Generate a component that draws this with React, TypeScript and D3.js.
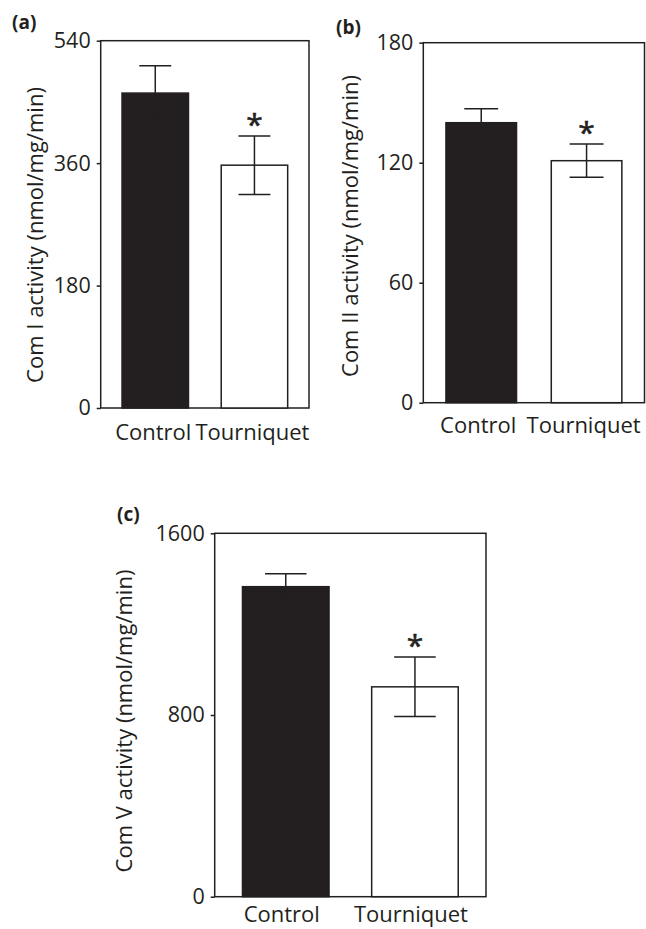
import React, { useEffect, useRef } from "react";
import * as d3 from "d3";

// groups, bar means and SEM
const groups = ["Control", "Tourniquet"];

const comIMeans = [463, 357];
const comISem = [40, 43];
const comITicks = [0, 180, 360, 540];

const comIIMeans = [140, 121];
const comIISem = [7, 8.3];
const comIITicks = [0, 60, 120, 180];

const comVMeans = [1365, 924];
const comVSem = [57, 131];
const comVTicks = [0, 800, 1600];

const significant = [false, true];

const W = 646;
const H = 929;
const FONT = "'Open Sans', sans-serif";
const INK = "#231f20";

function drawPanel(svg, p) {
  const g = svg.append("g");

  const x = d3.scaleBand().domain(groups).range([p.x0, p.x1]).paddingInner(0.33).paddingOuter(0.215);
  const y = d3.scaleLinear().domain([0, p.ticks[p.ticks.length - 1]]).range([p.y0, p.y1]);

  // frame
  g.append("rect")
    .attr("x", p.x0).attr("y", p.y1)
    .attr("width", p.x1 - p.x0).attr("height", p.y0 - p.y1)
    .attr("fill", "none").attr("stroke", INK).attr("stroke-width", 1.5);

  // y axis
  const ax = g.append("g").attr("transform", `translate(${p.x0},0)`)
    .call(d3.axisLeft(y).tickValues(p.ticks).tickSize(4).tickPadding(6).tickFormat(d3.format("d")));
  ax.select(".domain").remove();
  ax.selectAll("line").attr("stroke", INK).attr("stroke-width", 1.5);
  ax.selectAll("text").attr("font-family", FONT).attr("font-size", 21.5).attr("fill", INK);

  const bw = x.bandwidth();
  const data = groups.map((k, i) => ({ k, v: p.means[i], se: p.sem[i], sig: significant[i] }));

  g.selectAll("rect.bar").data(data).enter().append("rect")
    .attr("class", "bar")
    .attr("x", d => x(d.k))
    .attr("y", d => y(d.v))
    .attr("width", bw)
    .attr("height", d => y(0) - y(d.v))
    .attr("fill", (d, i) => (i === 0 ? INK : "#fff"))
    .attr("stroke", INK).attr("stroke-width", 1.5);

  const cap = bw * 0.24;
  const err = g.selectAll("g.err").data(data).enter().append("g").attr("class", "err");
  err.append("line")
    .attr("x1", d => x(d.k) + bw / 2).attr("x2", d => x(d.k) + bw / 2)
    .attr("y1", d => y(d.v - d.se)).attr("y2", d => y(d.v + d.se));
  err.append("line")
    .attr("x1", d => x(d.k) + bw / 2 - cap).attr("x2", d => x(d.k) + bw / 2 + cap)
    .attr("y1", d => y(d.v + d.se)).attr("y2", d => y(d.v + d.se));
  err.append("line")
    .attr("x1", d => x(d.k) + bw / 2 - cap).attr("x2", d => x(d.k) + bw / 2 + cap)
    .attr("y1", d => y(d.v - d.se)).attr("y2", d => y(d.v - d.se));
  err.selectAll("line").attr("stroke", INK).attr("stroke-width", 1.5);

  g.selectAll("text.star").data(data.filter(d => d.sig)).enter().append("text")
    .attr("class", "star")
    .attr("x", d => x(d.k) + bw / 2)
    .attr("y", d => y(d.v + d.se) - 1)
    .attr("text-anchor", "middle")
    .attr("font-family", FONT).attr("font-size", 30).attr("fill", INK)
    .attr("stroke", INK).attr("stroke-width", 0.6)
    .text("*");

  // category labels
  g.selectAll("text.cat").data(data).enter().append("text")
    .attr("class", "cat")
    .attr("x", d => x(d.k) + bw / 2 + p.catDx)
    .attr("y", p.catY)
    .attr("text-anchor", "middle")
    .attr("font-family", FONT).attr("font-size", 22).attr("fill", INK)
    .text(d => d.k);

  // y title
  g.append("text")
    .attr("transform", `translate(${p.titleX},${p.titleY}) rotate(-90)`)
    .attr("text-anchor", "middle")
    .attr("font-family", FONT).attr("font-size", 22).attr("fill", INK)
    .text(p.title);

  // panel letter
  g.append("text")
    .attr("x", p.tagX).attr("y", p.tagY)
    .attr("font-family", FONT).attr("font-size", 19).attr("font-weight", "bold").attr("fill", INK)
    .text(p.tag);
}

export default function App() {
  const ref = useRef(null);

  useEffect(() => {
    const svg = d3.select(ref.current);
    svg.selectAll("*").remove();

    drawPanel(svg, {
      x0: 100.7, x1: 309, y0: 408, y1: 40.7,
      means: comIMeans, sem: comISem, ticks: comITicks,
      title: "Com I activity (nmol/mg/min)", titleX: 43, titleY: 235,
      catY: 440, catDx: -2, tag: "(a)", tagX: 12, tagY: 29,
    });
    drawPanel(svg, {
      x0: 423.3, x1: 644.5, y0: 402.7, y1: 42.7,
      means: comIIMeans, sem: comIISem, ticks: comIITicks,
      title: "Com II activity (nmol/mg/min)", titleX: 358, titleY: 226,
      catY: 433, catDx: -3, tag: "(b)", tagX: 336, tagY: 34,
    });
    drawPanel(svg, {
      x0: 214.7, x1: 486, y0: 896.7, y1: 533.3,
      means: comVMeans, sem: comVSem, ticks: comVTicks,
      title: "Com V activity (nmol/mg/min)", titleX: 131.5, titleY: 721,
      catY: 922, catDx: -4, tag: "(c)", tagX: 117, tagY: 521,
    });
  }, []);

  return (
    <div style={{ position: "absolute", left: 0, top: 0 }}>
      <svg ref={ref} width={W} height={H} style={{ display: "block", background: "#fff" }} />
    </div>
  );
}
